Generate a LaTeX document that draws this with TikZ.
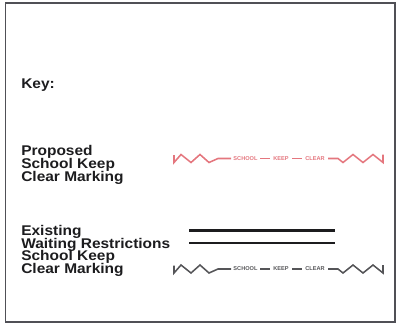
\documentclass[tikz,border=0pt]{standalone}
\usepackage{fontspec}
\setmainfont{Liberation Sans}
\newfontfamily\keyfamily[FakeStretch=1.1]{Liberation Sans}
\usetikzlibrary{positioning}

\definecolor{keepred}{RGB}{228,118,126}
\definecolor{keepgrey}{RGB}{85,85,88}
\definecolor{framegrey}{RGB}{80,80,86}
\definecolor{inkblack}{RGB}{28,28,30}

\newcommand\keyfont{\keyfamily\fontsize{10}{9}\selectfont\bfseries\setlength\lineskiplimit{-100pt}}

\begin{document}
\begin{tikzpicture}[
  x=0.025cm, y=-0.025cm,
  keytext/.style={font=\keyfont, text=inkblack, align=left, inner sep=0pt, anchor=base west},
  marking/.style={line width=1.1pt, line join=miter},
  tinyword/.style={font=\fontsize{4}{4}\selectfont\bfseries, inner sep=0pt},
  restriction/.style={line width=1.5pt, draw=inkblack},
]
\useasboundingbox (0,0) rectangle (398,327);

% === FRAME ===
\draw[framegrey, line width=1.2pt] (5.5,3.3) rectangle (395,321.7);

% === KEY TEXTS (anchored on last line) ===
\node[keytext] (key) at (21,89) {Key:};
\node[keytext] (proposed) at (21,181) {Proposed\\School Keep\\Clear Marking};
\node[keytext] (existing) at (21,273.5) {Existing\\Waiting Restrictions\\School Keep\\Clear Marking};

% === SCHOOL KEEP CLEAR MARKINGS ===
\foreach \y/\col in {158.5/keepred, 269/keepgrey} {
  \begin{scope}[yshift=-\y*0.025cm, draw=\col, text=\col]
    \draw[marking, \col] (174,-3.5) -- (174,4) -- (181,-4) -- (191,4) -- (200,-4)
      -- (209,4) -- (218,0) -- (231,0);
    \draw[marking, \col] (328,0) -- (338,0) -- (343,4) -- (353,-4) -- (363,4)
      -- (373,-4) -- (383,4) -- (383,-4);
    \draw[marking, \col] (260,0) -- (270,0) (292,0) -- (302,0);
    \node[tinyword, \col] at (245.5,0) {SCHOOL};
    \node[tinyword, \col] at (281,0) {KEEP};
    \node[tinyword, \col] at (315,0) {CLEAR};
  \end{scope}
}

% === WAITING RESTRICTIONS (double line) ===
\coordinate (wr1a) at (189,230.5);
\coordinate (wr1b) at (335,230.5);
\coordinate (wr2a) at (189,243);
\coordinate (wr2b) at (335,243);
\draw[restriction] (wr1a) -- (wr1b);
\draw[restriction] (wr2a) -- (wr2b);
\end{tikzpicture}
\end{document}
